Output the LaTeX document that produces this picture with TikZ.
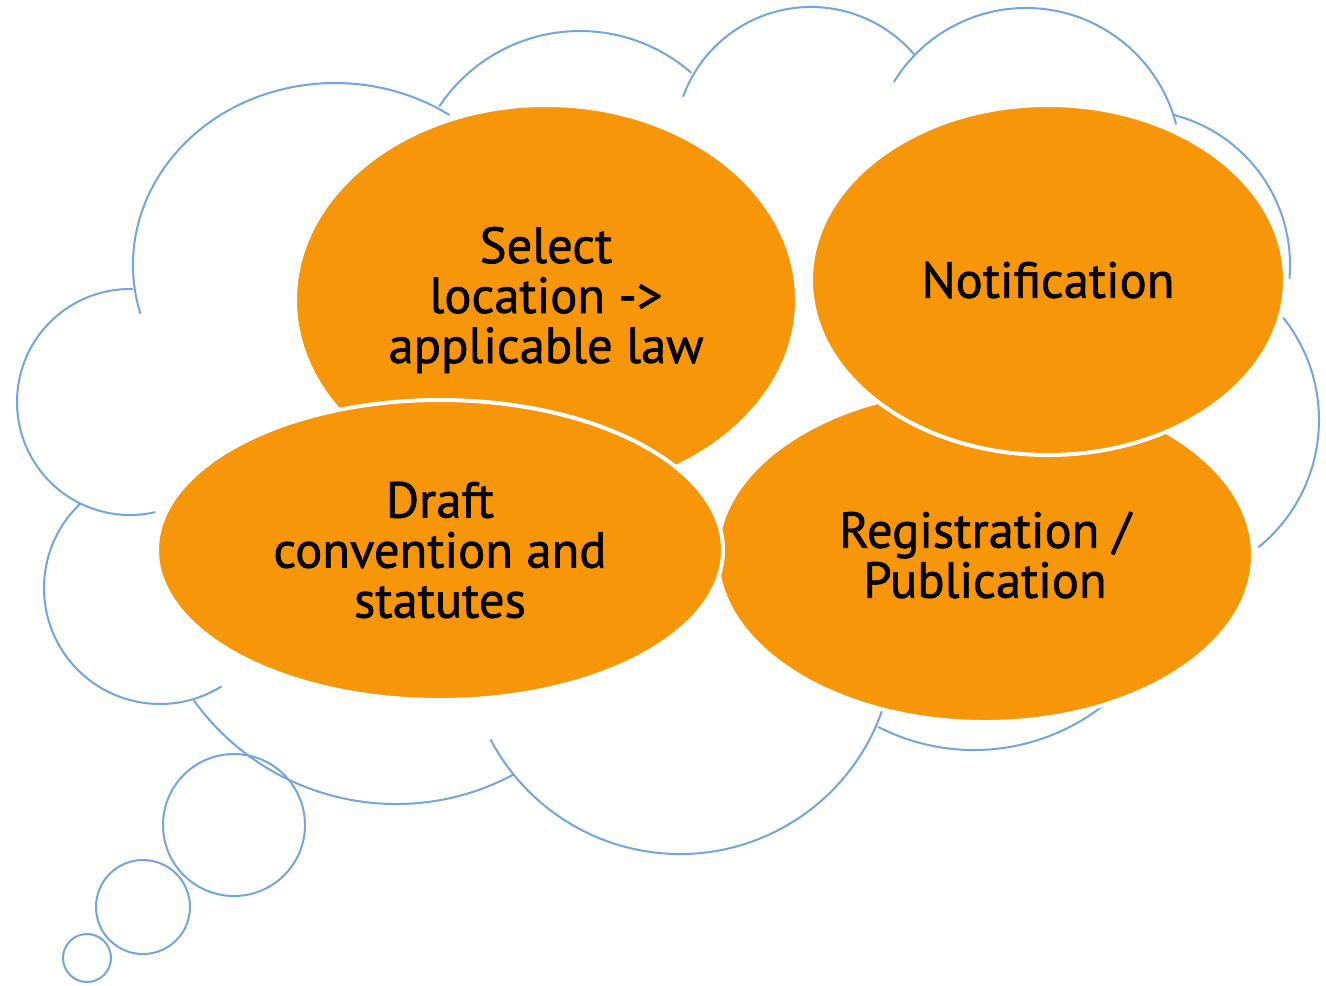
\documentclass[tikz,border=0pt]{standalone}
\usepackage{fontspec}
\setmainfont{PT Sans}
\newfontface\stagefont{PT Sans}[FakeBold=1.2]
\usetikzlibrary{shapes.geometric}
\definecolor{stageorange}{RGB}{247,150,8}
\definecolor{cloudblue}{RGB}{115,165,218}
\begin{document}
\begin{tikzpicture}[x=0.75pt, y=-0.75pt,
    cloudline/.style={draw=cloudblue, line width=1.5pt},
    stage/.style={ellipse, fill=stageorange, draw=white, line width=3pt, align=center, inner sep=0pt, font=\stagefont\fontsize{38}{37.5}\selectfont}]
    \useasboundingbox (0,0) rectangle (1326,985);

    % cloud outline, one arc per lobe
    \foreach \cx/\cy/\rx/\ry/\sa/\ea in {335/265/202/182/164.5/304.5, 580/200/169/169/213.6/311.2,
        811/143/136/136/199.9/319.4, 1026/163/155/155/211.5/345.6, 1135/265/155/155/284.2/365,
        1155/420/164/164/-38.6/51, 974/540/210/210/30/117.2, 680/640/214/214/15/152.3,
        396/555/249/249/144.3/62, 160/588/116/116/227/58, 130/402/113/113/271.5/77}
        \draw[cloudline] (\cx,\cy) ++(\sa:{\rx} and {\ry}) arc[start angle=\sa, end angle=\ea, x radius=\rx, y radius=\ry];

    % thought bubbles
    \draw[cloudline] (234,825) circle[radius=71];
    \draw[cloudline] (143,907) circle[radius=47];
    \draw[cloudline] (87,958) circle[radius=24];

    % the four steps
    \node[stage, minimum width=376.5pt, minimum height=292.5pt] (select) at (546,300) {Select\\location ->\\applicable law};
    \node[stage, minimum width=402pt, minimum height=250.5pt] (register) at (985,555) {Registration /\\Publication};
    \node[stage, minimum width=424.5pt, minimum height=225pt] (draft) at (440,550) {Draft\\convention and\\statutes};
    \node[stage, minimum width=355.5pt, minimum height=262.5pt] (notify) at (1048,280) {Notification};
\end{tikzpicture}
\end{document}
